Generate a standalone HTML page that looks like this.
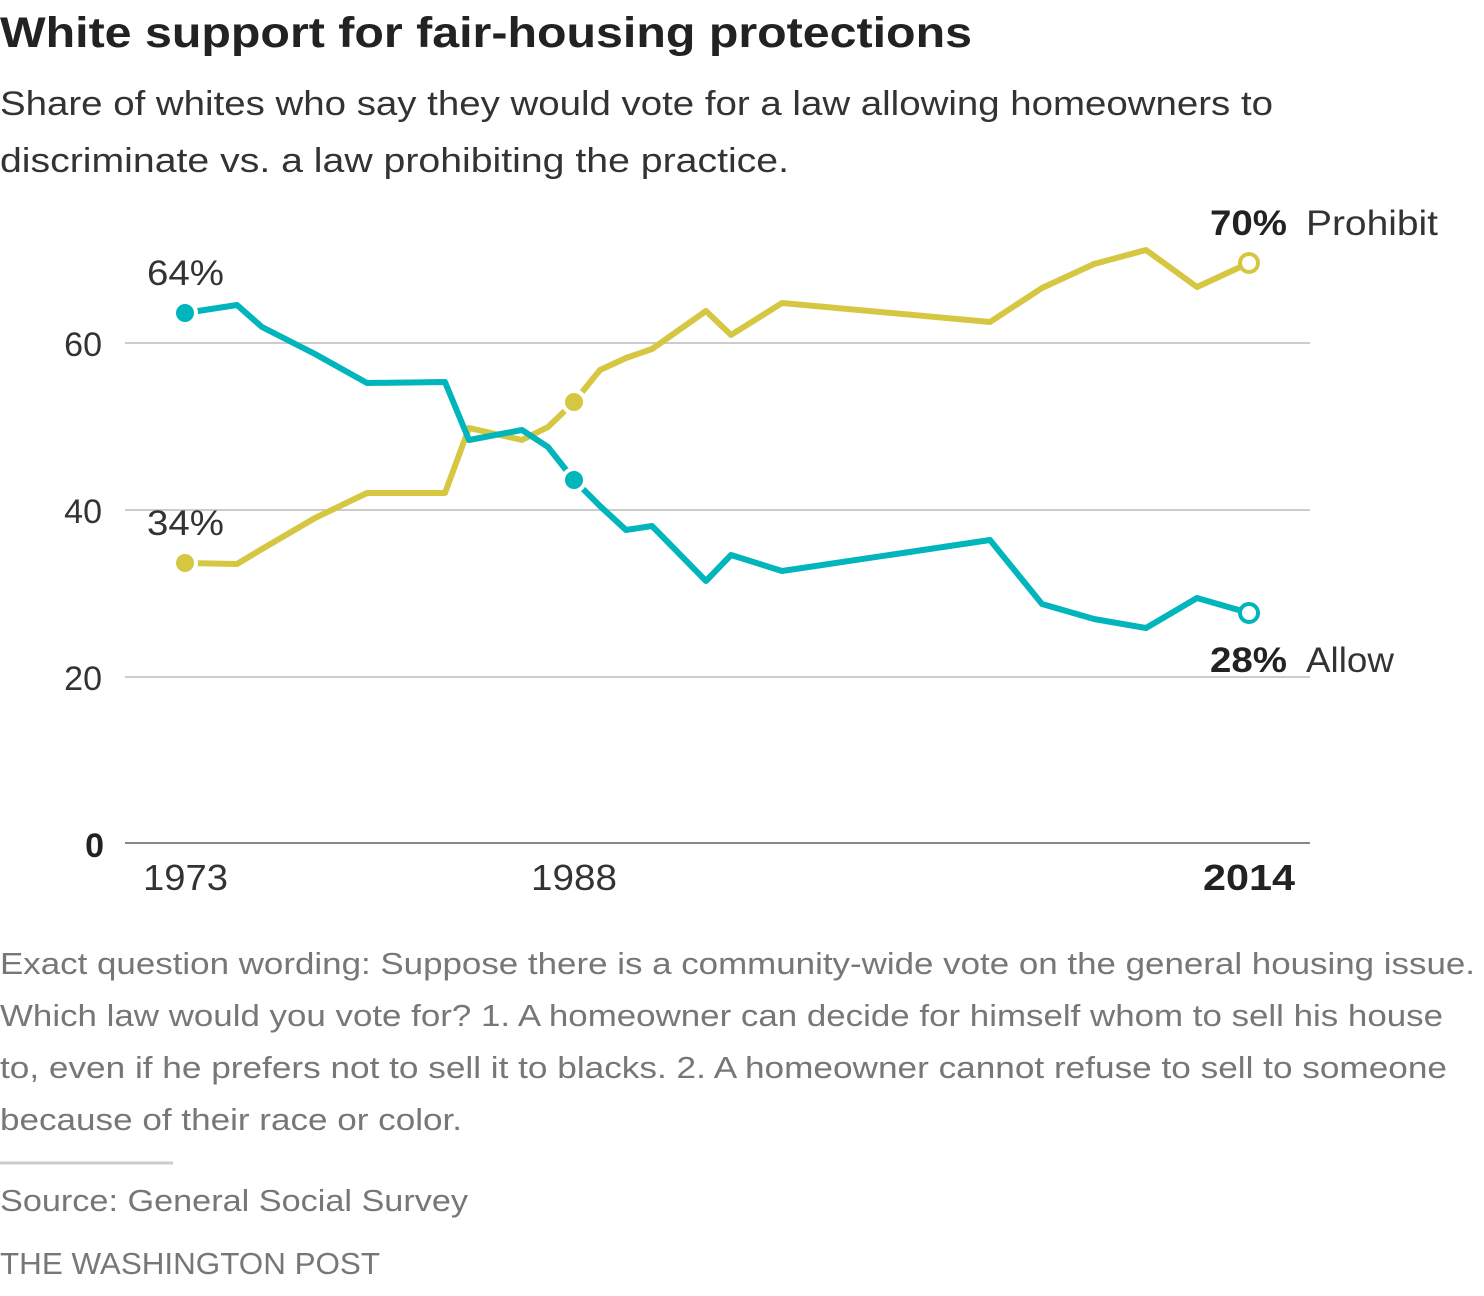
<!DOCTYPE html>
<html><head><meta charset="utf-8"><style>
body{margin:0;background:#fff;width:1484px;height:1296px;overflow:hidden;font-family:"Liberation Sans",sans-serif;color:#333}
</style></head><body>
<svg width="1484" height="1296" xmlns="http://www.w3.org/2000/svg" style="position:absolute;left:0;top:0">
<text x="0" y="47" font-size="43" font-weight="bold" fill="#222" textLength="972" lengthAdjust="spacingAndGlyphs">White support for fair-housing protections</text>
<text x="0" y="115" font-size="34" fill="#333" textLength="1273" lengthAdjust="spacingAndGlyphs">Share of whites who say they would vote for a law allowing homeowners to</text>
<text x="0" y="172" font-size="34" fill="#333" textLength="789" lengthAdjust="spacingAndGlyphs">discriminate vs. a law prohibiting the practice.</text>
<g stroke="#ccc" stroke-width="2">
<line x1="125" y1="343" x2="1310" y2="343"/><line x1="125" y1="510" x2="1310" y2="510"/><line x1="125" y1="677" x2="1310" y2="677"/>
</g>
<line x1="125" y1="843" x2="1310" y2="843" stroke="#888" stroke-width="2"/>
<g font-size="34" fill="#333" text-anchor="end">
<text x="102" y="356">60</text><text x="102" y="523">40</text><text x="102" y="690">20</text><text x="104" y="857" font-weight="bold" fill="#222">0</text>
</g>
<g font-size="36" fill="#333">
<text x="143" y="890" textLength="85" lengthAdjust="spacingAndGlyphs">1973</text><text x="531" y="890" textLength="86" lengthAdjust="spacingAndGlyphs">1988</text><text x="1203" y="890" font-weight="bold" fill="#222" textLength="92" lengthAdjust="spacingAndGlyphs">2014</text>
</g>
<polyline fill="none" stroke="#d6c743" stroke-width="6" stroke-linejoin="round" points="185,563 237,564 262,549 315,518 367,493 445,493 469,428 522,440 548,427 574,402 600,370 626,358 652,349 706,311 731,335 782,303 990,322 1042,288 1094,264 1146,250 1197,287 1249,263"/>
<polyline fill="none" stroke="#00b5bb" stroke-width="6" stroke-linejoin="round" points="185,313 237,305 262,327 315,354 367,383 445,382 469,440 522,430 548,447 574,480 600,506 626,530 652,526 706,581 731,555 782,571 990,540 1042,604 1094,619 1146,628 1197,598 1249,613"/>
<g stroke="#fff" stroke-width="4">
<circle cx="185" cy="313" r="11" fill="#00b5bb"/><circle cx="574" cy="480" r="11" fill="#00b5bb"/>
<circle cx="185" cy="563" r="11" fill="#d6c743"/><circle cx="574" cy="402" r="11" fill="#d6c743"/>
</g>
<circle cx="1249" cy="613" r="9" fill="#fff" stroke="#00b5bb" stroke-width="4"/>
<circle cx="1249" cy="263" r="9" fill="#fff" stroke="#d6c743" stroke-width="4"/>
<g font-size="35" fill="#333">
<text x="147" y="285" textLength="77" lengthAdjust="spacingAndGlyphs">64%</text><text x="147" y="535" textLength="77" lengthAdjust="spacingAndGlyphs">34%</text>
<text x="1210" y="235" font-weight="bold" fill="#222" textLength="77" lengthAdjust="spacingAndGlyphs">70%</text>
<text x="1306" y="235" textLength="132" lengthAdjust="spacingAndGlyphs">Prohibit</text>
<text x="1210" y="672" font-weight="bold" fill="#222" textLength="77" lengthAdjust="spacingAndGlyphs">28%</text>
<text x="1306" y="672" textLength="88" lengthAdjust="spacingAndGlyphs">Allow</text>
</g>
<g font-size="31" fill="#777">
<text x="0" y="974" textLength="1475" lengthAdjust="spacingAndGlyphs">Exact question wording: Suppose there is a community-wide vote on the general housing issue.</text>
<text x="0" y="1026" textLength="1443" lengthAdjust="spacingAndGlyphs">Which law would you vote for? 1. A homeowner can decide for himself whom to sell his house</text>
<text x="0" y="1078" textLength="1447" lengthAdjust="spacingAndGlyphs">to, even if he prefers not to sell it to blacks. 2. A homeowner cannot refuse to sell to someone</text>
<text x="0" y="1130" textLength="462" lengthAdjust="spacingAndGlyphs">because of their race or color.</text>
<text x="0" y="1211" textLength="468" lengthAdjust="spacingAndGlyphs">Source: General Social Survey</text>
<text x="0" y="1274" textLength="380" lengthAdjust="spacingAndGlyphs">THE WASHINGTON POST</text>
</g>
<line x1="0" y1="1163" x2="173" y2="1163" stroke="#ccc" stroke-width="3"/>
</svg>
</body></html>
